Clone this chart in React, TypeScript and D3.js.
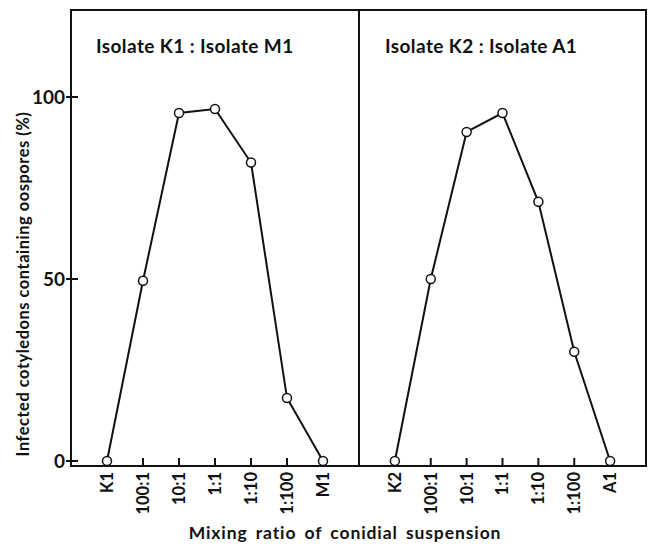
import React from "react";
import * as d3 from "d3";

const leftCategories = ["K1", "100:1", "10:1", "1:1", "1:10", "1:100", "M1"];
const leftValues = [0, 49.5, 95.6, 96.7, 82, 17.3, 0];
const rightCategories = ["K2", "100:1", "10:1", "1:1", "1:10", "1:100", "A1"];
const rightValues = [0, 50, 90.4, 95.6, 71.2, 30, 0];
const yTicks = [0, 50, 100];
const panelTitles = ["Isolate K1 : Isolate M1", "Isolate K2 : Isolate A1"];
const yLabel = "Infected cotyledons containing oospores (%)";
const xLabel = "Mixing ratio of conidial suspension";

const W = 654;
const H = 547;
const frameLeft = 71;
const frameRight = 646;
const divider = 359;
const frameTop = 10;
const frameBottom = 466;
const FONT = "Lato, 'Open Sans', sans-serif";

export default function App() {
  const y = d3.scaleLinear().domain([0, 100]).range([461, 97]);
  const panels = [
    { cats: leftCategories, vals: leftValues, x0: frameLeft, x1: divider, title: panelTitles[0], tx: 96 },
    { cats: rightCategories, vals: rightValues, x0: divider, x1: frameRight, title: panelTitles[1], tx: 385 },
  ];
  return (
    <svg width={W} height={H} style={{ position: "absolute", left: 0, top: 0, background: "#fff" }}>
      <rect x={frameLeft} y={frameTop} width={frameRight - frameLeft} height={frameBottom - frameTop} fill="none" stroke="#111" strokeWidth={2} />
      <line x1={divider} x2={divider} y1={frameTop} y2={frameBottom} stroke="#111" strokeWidth={2} />
      {yTicks.map((t) => (
        <g key={t}>
          <line x1={66} x2={78} y1={y(t)} y2={y(t)} stroke="#111" strokeWidth={2} />
          <text x={65} y={y(t)} dy="0.36em" textAnchor="end" fontFamily={FONT} fontWeight={700} fontSize={19} fill="#111">{t}</text>
        </g>
      ))}
      <text transform={`translate(29,284) rotate(-90)`} textAnchor="middle" fontFamily={FONT} fontWeight={700} fontSize={16.5} letterSpacing={0.5} fill="#111">{yLabel}</text>
      <text x={345} y={539} textAnchor="middle" fontFamily={FONT} fontWeight={700} fontSize={17.5} fill="#111" letterSpacing={0.9} wordSpacing={3}>{xLabel}</text>
      {panels.map((p, i) => {
        const x = d3.scalePoint<string>().domain(p.cats).range([p.x0, p.x1]).padding(1);
        const line = d3.line<number>().x((_, j) => x(p.cats[j]) as number).y((v) => y(v));
        return (
          <g key={i}>
            <text x={p.tx} y={53} fontFamily={FONT} fontWeight={700} fontSize={19} letterSpacing={0.4} fill="#111">{p.title}</text>
            {p.cats.map((c) => (
              <g key={c}>
                <line x1={x(c)} x2={x(c)} y1={frameBottom} y2={frameBottom - 8} stroke="#111" strokeWidth={2} />
                <text transform={`translate(${(x(c) as number)},${frameBottom + 6}) rotate(-90)`} dy="0.36em" textAnchor="end" fontFamily={FONT} fontWeight={700} fontSize={16.5} fill="#111">{c}</text>
              </g>
            ))}
            <path d={line(p.vals) || ""} fill="none" stroke="#111" strokeWidth={2} />
            {p.vals.map((v, j) => (
              <circle key={j} cx={x(p.cats[j])} cy={y(v)} r={4.5} fill="#fff" stroke="#111" strokeWidth={1.5} />
            ))}
          </g>
        );
      })}
    </svg>
  );
}
